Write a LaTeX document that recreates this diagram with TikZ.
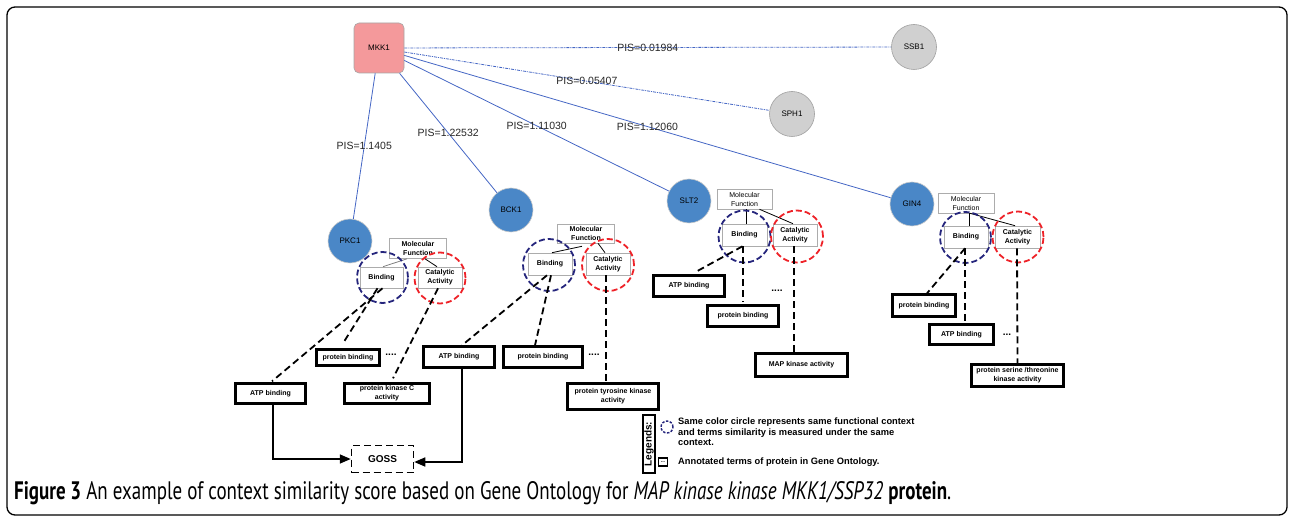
\documentclass[tikz,border=0pt]{standalone}
\usepackage{fontspec}
\setmainfont{Liberation Sans}
\newfontfamily\capfont{PT Sans}
\usepackage{graphicx}
\usetikzlibrary{arrows.meta}
\definecolor{geneblue}{HTML}{4A87C7}
\definecolor{pinkc}{HTML}{F4999B}
\definecolor{grayc}{HTML}{D0D0D0}
\definecolor{edgeblue}{HTML}{4466C4}
\definecolor{navyc}{HTML}{25257C}
\definecolor{redc}{HTML}{EE2228}
\tikzset{
  gene/.style={circle, fill=geneblue, draw=gray!40, line width=0.6pt, minimum size=44pt, inner sep=0pt, font=\fontsize{8}{9}\selectfont},
  other/.style={circle, fill=grayc, draw=gray!75, line width=0.6pt, minimum size=45pt, inner sep=0pt, font=\fontsize{8}{9}\selectfont},
  hub/.style={rounded corners=5pt, fill=pinkc, draw=gray!70, line width=0.6pt, minimum size=50pt, inner sep=0pt, font=\fontsize{8}{9}\selectfont},
  pisline/.style={draw=edgeblue, line width=0.8pt},
  pisdot/.style={draw=edgeblue, line width=0.8pt, dash pattern=on 3pt off 1pt on 1pt off 1pt},
  pislab/.style={font=\fontsize{10.5}{12}\selectfont, text=black!85, inner sep=0pt},
  mfbold/.style={draw=gray!65, fill=white, line width=0.6pt, minimum width=57pt, minimum height=20pt, inner sep=0pt, align=center, font=\fontsize{7}{9}\selectfont\bfseries},
  mfplain/.style={draw=gray!65, fill=white, line width=0.6pt, minimum width=55pt, minimum height=20pt, inner sep=0pt, align=center, font=\fontsize{7}{9}\selectfont},
  ctx/.style={draw=gray!65, fill=white, line width=0.6pt, minimum width=44pt, minimum height=21pt, inner sep=0pt, align=center, font=\fontsize{7}{9}\selectfont\bfseries},
  bcirc/.style={circle, draw=navyc, line width=1.8pt, dash pattern=on 6pt off 3pt, minimum size=51pt, inner sep=0pt},
  rcirc/.style={circle, draw=redc, line width=1.8pt, dash pattern=on 6pt off 3pt, minimum size=51pt, inner sep=0pt},
  term/.style={draw=black, fill=white, line width=2.4pt, inner sep=0pt, align=center, font=\fontsize{7}{9}\selectfont\bfseries},
  tlink/.style={line width=1.8pt, dash pattern=on 7pt off 4pt},
  mflink/.style={line width=0.8pt},
  dots/.style={font=\fontsize{10}{10}\selectfont\bfseries, inner sep=0pt},
  arr/.style={line width=1.6pt, -{Triangle[length=11pt,width=9pt]}},
}
\begin{document}
\begin{tikzpicture}[x=1pt,y=-1pt]
\useasboundingbox (0,0) rectangle (1289,518);
\draw[line width=1.3pt, rounded corners=8pt] (7,7) rectangle (1287,515);

% gene nodes
\node[hub] (mkk) at (379,48) {MKK1};
\node[other] (ssb) at (914,47) {SSB1};
\node[other] (sph) at (792,114) {SPH1};
\node[gene] (pkc1) at (350,241) {PKC1};
\node[gene] (bck1) at (511,210) {BCK1};
\node[gene] (slt2) at (689,201) {SLT2};
\node[gene] (gin4) at (912,204) {GIN4};

\draw[pisdot] (mkk) -- (ssb) node[pislab, midway] (l1) {PIS=0.01984};
\draw[pisdot] (mkk) -- (sph) node[pislab, midway] (l2) {PIS=0.05407};
\draw[pisline] (mkk) -- (pkc1) node[pislab, midway] (l3) {PIS=1.1405};
\draw[pisline] (mkk) -- (bck1) node[pislab, midway] (l4) {PIS=1.22532};
\draw[pisline] (mkk) -- (slt2) node[pislab, midway] (l5) {PIS=1.11030};
\draw[pisline] (mkk) -- (gin4) node[pislab, midway] (l6) {PIS=1.12060};

% ---------- cluster 1 (PKC1)
\node[mfbold] (mf1) at (418,248.5) {Molecular\\Function};
\node[ctx, minimum width=43pt] (b1) at (381.5,277.5) {Binding};
\node[ctx] (c1) at (440,277.5) {Catalytic\\Activity};
\draw[mflink, draw=gray] ([xshift=-11pt]mf1.south) -- ([xshift=1.5pt]b1.north);
\draw[mflink] ([xshift=7pt]mf1.south) -- ([xshift=-3pt]c1.north);
\node[bcirc] (bc1) at (382.5,277.5) {};
\node[rcirc] (rc1) at (440,278) {};
\node[term, minimum width=63pt, minimum height=16pt] (pb1) at (348,357.5) {protein binding};
\node[term, minimum width=70pt, minimum height=20pt] (atp1) at (270.5,393.5) {ATP binding};
\node[term, minimum width=85pt, minimum height=20pt] (pkc) at (387,393.5) {protein kinase C\\activity};
\node[dots] (d1) at (391,355) {....};
\draw[tlink] ([xshift=1pt]b1.south) -- ([xshift=1.5pt,yshift=1pt]atp1.north);
\draw[tlink] ([xshift=-4pt]b1.south) -- ([xshift=-5pt,yshift=5pt]pb1.north);
\draw[tlink] ([xshift=-2pt]c1.south) -- ([xshift=6pt,yshift=4pt]pkc.north);

% ---------- cluster 2 (BCK1)
\node[mfbold, minimum height=19pt] (mf2) at (586,233.5) {Molecular\\Function};
\node[ctx, minimum height=22pt] (b2) at (550,264) {Binding};
\node[ctx, minimum height=22pt] (c2) at (608,264) {Catalytic\\Activity};
\draw[mflink] ([xshift=2pt]b2.north) -- ([xshift=-4pt,yshift=-3pt]mf2.south);
\draw[mflink] ([xshift=12pt]mf2.south) -- ([xshift=-3pt]c2.north);
\node[bcirc, minimum size=52pt] (bc2) at (549,265) {};
\node[rcirc, minimum size=52pt] (rc2) at (608,265) {};
\node[term, minimum width=71pt, minimum height=21pt] (atp2) at (459,357) {ATP binding};
\node[term, minimum width=79pt, minimum height=21pt] (pb2) at (543,357) {protein binding};
\node[term, minimum width=91pt, minimum height=26pt] (ptk) at (613,396.5) {protein tyrosine kinase\\activity};
\node[dots] (d2) at (594,355) {....};
\draw[tlink] ([xshift=-3pt]b2.south) -- ([xshift=3pt]atp2.north);
\draw[tlink] ([xshift=1pt]b2.south) -- ([xshift=-8pt]pb2.north);
\draw[tlink] ([xshift=-2pt]c2.south) -- ([xshift=-7pt]ptk.north);

% ---------- cluster 3 (SLT2)
\node[mfplain] (mf3) at (744.5,199) {Molecular\\Function};
\node[ctx, minimum width=45pt, minimum height=22pt] (b3) at (744.5,235) {Binding};
\node[ctx, minimum height=22pt] (c3) at (795,235) {Catalytic\\Activity};
\draw[mflink] ([xshift=1.5pt]mf3.south) -- ([xshift=1.5pt]b3.north);
\draw[mflink] ([xshift=15pt]mf3.south) -- ([xshift=-2pt]c3.north);
\node[bcirc, minimum size=52pt] (bc3) at (744.5,236.5) {};
\node[rcirc, minimum size=52pt] (rc3) at (797,236.5) {};
\node[term, minimum width=71pt, minimum height=21pt] (atp3) at (689,286) {ATP binding};
\node[term, minimum width=71pt, minimum height=21pt] (pb3) at (743,316) {protein binding};
\node[term, minimum width=92pt, minimum height=23pt] (map) at (801.5,365) {MAP kinase activity};
\node[dots] (d3) at (777,291) {....};
\draw[tlink] ([xshift=-2pt]b3.south) -- ([xshift=6pt,yshift=2pt]atp3.north);
\draw[tlink] ([xshift=-1.5pt]b3.south) -- ([yshift=2pt]pb3.north);
\draw[tlink] ([xshift=-1pt]c3.south) -- ([xshift=-7.5pt]map.north);

% ---------- cluster 4 (GIN4)
\node[mfplain, minimum width=56pt] (mf4) at (966,203) {Molecular\\Function};
\node[ctx, minimum height=22pt] (b4) at (966,237) {Binding};
\node[ctx, minimum width=45pt, minimum height=22pt] (c4) at (1017.5,237) {Catalytic\\Activity};
\draw[mflink] ([xshift=3pt]mf4.south) -- ([xshift=3pt]b4.north);
\draw[mflink] ([xshift=4pt]mf4.south) -- ([xshift=-2.5pt]c4.north);
\node[bcirc, minimum size=51pt] (bc4) at (965.5,237.5) {};
\node[rcirc, minimum size=51pt] (rc4) at (1018,237) {};
\node[term, minimum width=63pt, minimum height=22pt] (pb4) at (924,305.5) {protein binding};
\node[term, minimum width=64pt, minimum height=20pt] (atp4) at (961.5,334.5) {ATP binding};
\node[term, minimum width=92pt, minimum height=22pt] (pst) at (1017.5,375.5) {protein serine /threonine\\kinase activity};
\node[dots] (d4) at (1007,335) {...};
\draw[tlink] ([xshift=-1pt]b4.south) -- ([xshift=3pt]pb4.north);
\draw[tlink] ([xshift=-1pt]b4.south) -- ([xshift=3.5pt]atp4.north);
\draw[tlink] ([xshift=-0.5pt]c4.south) -- (pst.north);

% ---------- GOSS
\node[draw, line width=1.5pt, dash pattern=on 7pt off 4pt, minimum width=62pt, minimum height=27pt, inner sep=0pt, font=\fontsize{10}{12}\selectfont\bfseries] (goss) at (382.5,459) {GOSS};
\draw[arr] ([xshift=2.5pt]atp1.south) |- (goss.west);
\draw[arr] ([xshift=3pt]atp2.south) |- ([yshift=-3pt]goss.east);

% ---------- legend
\node[draw, line width=2pt, rotate=90, minimum width=58pt, minimum height=12pt, inner sep=0pt, font=\fontsize{10}{11}\selectfont\bfseries] (leg) at (649,444) {Legends:};
\node[circle, draw=navyc, line width=1.4pt, dash pattern=on 2.5pt off 1.5pt, minimum size=12pt, inner sep=0pt] (legc) at (667,427) {};
\node[anchor=north west, align=left, inner sep=0pt, font=\fontsize{9.3}{10.5}\selectfont\bfseries] (legt1) at (678,418) {Same color circle represents same functional context\\and terms similarity is measured under the same\\context.};
\node[draw, line width=1.5pt, minimum width=9pt, minimum height=8pt, inner sep=0pt, font=\fontsize{5}{5}\selectfont\bfseries] (legb) at (663,462) {...};
\node[anchor=west, inner sep=0pt, font=\fontsize{9.3}{10}\selectfont\bfseries] (legt2) at (678,462) {Annotated terms of protein in Gene Ontology.};

% ---------- caption
\node[anchor=west, inner sep=0pt] (cap) at (14,493) {\resizebox{937pt}{18pt}{\capfont\textbf{Figure 3} An example of context similarity score based on Gene Ontology for \textit{MAP kinase kinase MKK1/SSP32} \textbf{protein}.}};
\end{tikzpicture}
\end{document}
